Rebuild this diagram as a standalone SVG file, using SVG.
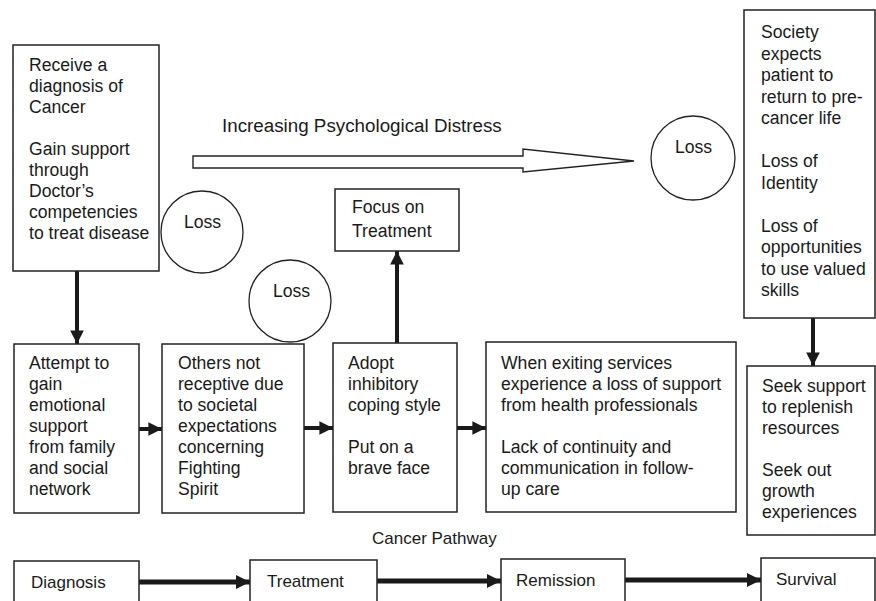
<svg xmlns="http://www.w3.org/2000/svg" width="876" height="601" viewBox="0 0 876 601">
<style>
.box{fill:#fff;stroke:#222;stroke-width:1.5}
.circ{fill:#fff;stroke:#222;stroke-width:1.3}
text{font-family:"Liberation Sans",Arial,sans-serif;font-size:17.6px;fill:#1a1a1a}
.title{font-size:18.8px}
.sub{font-size:17px}
.con{stroke:#1a1a1a;stroke-width:4;fill:none}
.conb{stroke:#1a1a1a;stroke-width:5;fill:none}
</style>
<defs>
<marker id="ah" viewBox="0 0 10 10" refX="10" refY="5" markerWidth="3.4" markerHeight="3.4" orient="auto" markerUnits="strokeWidth">
<path d="M0,0 L10,5 L0,10 Z" fill="#1a1a1a"/>
</marker>
<marker id="ahb" viewBox="0 0 10 10" refX="10" refY="5" markerWidth="2.8" markerHeight="2.8" orient="auto" markerUnits="strokeWidth">
<path d="M0,0 L10,5 L0,10 Z" fill="#1a1a1a"/>
</marker>
</defs>
<rect width="876" height="601" fill="#fff"/>

<g id="connectors">
<line class="con" x1="77" y1="271" x2="77" y2="344" marker-end="url(#ah)"/>
<line class="con" x1="139" y1="429" x2="162" y2="429" marker-end="url(#ah)"/>
<line class="con" x1="304" y1="428" x2="333" y2="428" marker-end="url(#ah)"/>
<line class="con" x1="457" y1="428" x2="486" y2="428" marker-end="url(#ah)"/>
<line class="con" x1="397" y1="343" x2="397" y2="251" marker-end="url(#ah)"/>
<line class="con" x1="813" y1="318" x2="813" y2="366" marker-end="url(#ah)"/>
<line class="conb" x1="139" y1="582" x2="250" y2="582" marker-end="url(#ahb)"/>
<line class="conb" x1="377" y1="581" x2="501" y2="581" marker-end="url(#ahb)"/>
<line class="conb" x1="625" y1="580" x2="761" y2="580" marker-end="url(#ahb)"/>
</g>

<g id="distress">
<text class="title" x="222" y="132">Increasing Psychological Distress</text>
<polygon points="193,156 523,156 523,149 634,161 523,172 523,168 193,168" fill="#fff" stroke="#222" stroke-width="1.4"/>
</g>

<g id="diagnosis-box">
<rect class="box" x="13" y="45" width="146" height="226"/>
<text x="29" y="71">Receive a</text>
<text x="29" y="92">diagnosis of</text>
<text x="29" y="113">Cancer</text>
<text x="29" y="155">Gain support</text>
<text x="29" y="176">through</text>
<text x="29" y="197">Doctor’s</text>
<text x="29" y="218">competencies</text>
<text x="29" y="239">to treat disease</text>
</g>

<g id="loss1">
<circle class="circ" cx="202" cy="232" r="41"/>
<text x="184" y="228">Loss</text>
</g>

<g id="loss2">
<circle class="circ" cx="290" cy="301" r="41"/>
<text x="273" y="297">Loss</text>
</g>

<g id="loss3">
<circle class="circ" cx="693" cy="158" r="42"/>
<text x="675" y="153">Loss</text>
</g>

<g id="focus-box">
<rect class="box" x="335" y="189" width="124" height="62"/>
<text x="352" y="213">Focus on</text>
<text x="352" y="237">Treatment</text>
</g>

<g id="emotional-box">
<rect class="box" x="14" y="344" width="125" height="169"/>
<text x="29" y="369">Attempt to</text>
<text x="29" y="390">gain</text>
<text x="29" y="411">emotional</text>
<text x="29" y="432">support</text>
<text x="29" y="453">from family</text>
<text x="29" y="474">and social</text>
<text x="29" y="495">network</text>
</g>

<g id="others-box">
<rect class="box" x="162" y="344" width="142" height="169"/>
<text x="178" y="369">Others not</text>
<text x="178" y="390">receptive due</text>
<text x="178" y="411">to societal</text>
<text x="178" y="432">expectations</text>
<text x="178" y="453">concerning</text>
<text x="178" y="474">Fighting</text>
<text x="178" y="495">Spirit</text>
</g>

<g id="coping-box">
<rect class="box" x="333" y="343" width="124" height="169"/>
<text x="348" y="369">Adopt</text>
<text x="348" y="390">inhibitory</text>
<text x="348" y="411">coping style</text>
<text x="348" y="453">Put on a</text>
<text x="348" y="474">brave face</text>
</g>

<g id="exiting-box">
<rect class="box" x="486" y="342" width="250" height="170"/>
<text x="501" y="369">When exiting services</text>
<text x="501" y="390">experience a loss of support</text>
<text x="501" y="411">from health professionals</text>
<text x="501" y="453">Lack of continuity and</text>
<text x="501" y="474">communication in follow-</text>
<text x="501" y="495">up care</text>
</g>

<g id="society-box">
<rect class="box" x="744" y="10" width="131" height="308"/>
<text x="761" y="38">Society</text>
<text x="761" y="59.5">expects</text>
<text x="761" y="81">patient to</text>
<text x="761" y="102.5">return to pre-</text>
<text x="761" y="124">cancer life</text>
<text x="761" y="167">Loss of</text>
<text x="761" y="188.5">Identity</text>
<text x="761" y="231.5">Loss of</text>
<text x="761" y="253">opportunities</text>
<text x="761" y="274.5">to use valued</text>
<text x="761" y="296">skills</text>
</g>

<g id="seek-box">
<rect class="box" x="747" y="366" width="128" height="169"/>
<text x="762" y="392">Seek support</text>
<text x="762" y="413">to replenish</text>
<text x="762" y="434">resources</text>
<text x="762" y="476">Seek out</text>
<text x="762" y="497">growth</text>
<text x="762" y="518">experiences</text>
</g>

<g id="pathway-label">
<text class="sub" x="372" y="544">Cancer Pathway</text>
</g>

<g id="path-diagnosis">
<rect class="box" x="14" y="561" width="125" height="50"/>
<text class="sub" x="31" y="588">Diagnosis</text>
</g>
<g id="path-treatment">
<rect class="box" x="250" y="560" width="127" height="50"/>
<text class="sub" x="267" y="587">Treatment</text>
</g>
<g id="path-remission">
<rect class="box" x="501" y="559" width="124" height="50"/>
<text class="sub" x="516" y="586">Remission</text>
</g>
<g id="path-survival">
<rect class="box" x="761" y="558" width="114" height="50"/>
<text class="sub" x="776" y="585">Survival</text>
</g>
</svg>
